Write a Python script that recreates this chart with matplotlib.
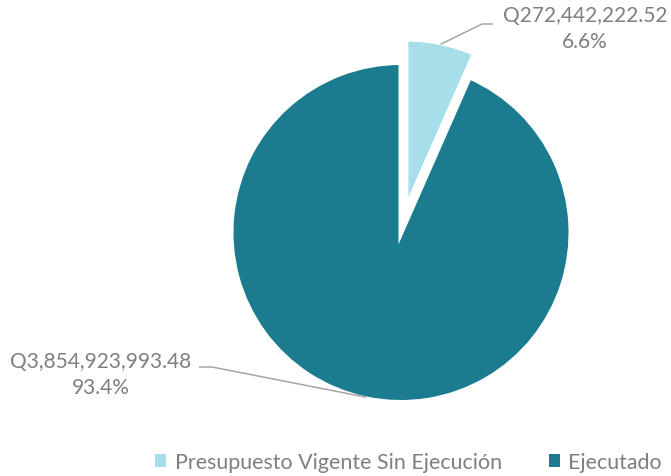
import numpy as np
import matplotlib
matplotlib.use("Agg")
import matplotlib.pyplot as plt
from matplotlib.patches import Patch

# datos
categorias = ["Presupuesto Vigente Sin Ejecución", "Ejecutado"]
montos = [272442222.52, 3854923993.48]
colores = ["#A6DFE9", "#1B7B8F"]

plt.rcParams['font.family'] = ['Lato', 'DejaVu Sans']
gris = "#7F7F7F"

fig = plt.figure(figsize=(6.71, 4.77), dpi=100)
ax = fig.add_axes([0, 0, 1, 1])
esc = 167.5  # px por unidad
cx, cy = 401, 233.5

R = 1.015
expl = [0.143, 0]
wedges, _ = ax.pie(montos, colors=colores, startangle=90, counterclock=False,
                   explode=expl, radius=R,
                   wedgeprops=dict(edgecolor="white", linewidth=3.6))
ax.set_xlim(-cx / esc, (671 - cx) / esc)
ax.set_ylim(-(477 - cy) / esc, cy / esc)
ax.axis("off")

total = sum(montos)
# posiciones de las etiquetas (px de la figura)
pos_texto = [(585, 29), (101, 375)]
codo = [((482, 25), (493, 25)), ((212, 368), (199, 368))]

def px(p):
    return ((p[0] - cx) / esc, (cy - p[1]) / esc)

for i, w in enumerate(wedges):
    ang = np.deg2rad((w.theta1 + w.theta2) / 2)
    x0 = w.center[0] + (R - 0.01) * np.cos(ang)
    y0 = w.center[1] + (R - 0.01) * np.sin(ang)
    a, b = px(codo[i][0]), px(codo[i][1])
    ax.plot([x0, a[0], b[0]], [y0, a[1], b[1]], color="#A6A6A6", lw=1.1,
            solid_capstyle="butt")
    tx, ty = px(pos_texto[i])
    txt = "Q{:,.2f}\n{:.1f}%".format(montos[i], montos[i] / total * 100)
    ax.text(tx, ty, txt, ha="center", va="center", fontsize=15, color=gris,
            linespacing=1.35)

handles = [Patch(facecolor=c, edgecolor="none") for c in colores]
fig.legend(handles, categorias, loc="center", bbox_to_anchor=(0.609, 0.029),
           ncol=2, frameon=False, fontsize=15.4, labelcolor=gris,
           handlelength=0.5, handleheight=0.5, handletextpad=0.4,
           columnspacing=2.2)

fig.savefig("out.png", dpi=100)
